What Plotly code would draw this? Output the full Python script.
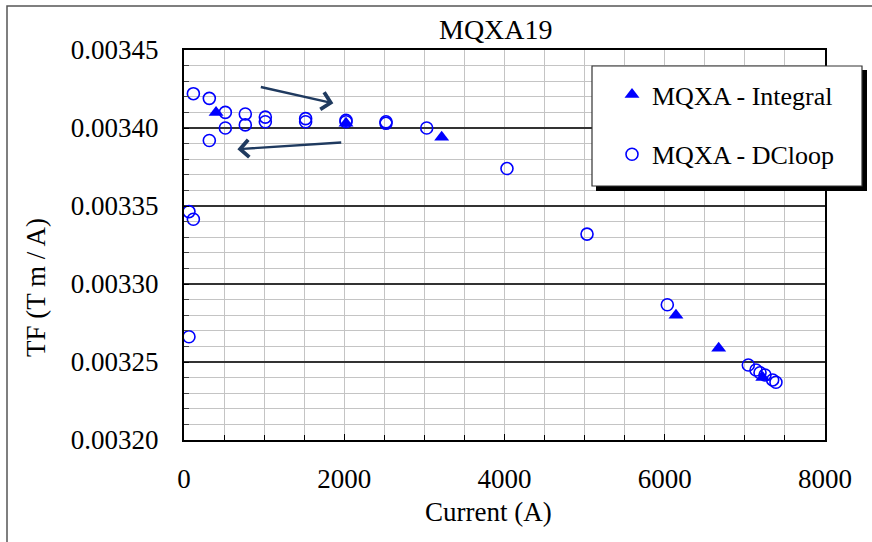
import plotly.graph_objects as go

# ---- data ----
dc_current = [117, 316, 516, 516, 316, 765, 765, 1015, 1015, 1518, 1518, 2022, 2022,
              2521, 2521, 3029, 4031, 5030, 6032, 7043, 7139, 7189, 7251, 7347, 7388,
              62, 117, 62]
dc_tf = [0.003422, 0.003419, 0.003410, 0.003400, 0.003392, 0.003409, 0.003402, 0.003407,
         0.003404, 0.003406, 0.003404, 0.003405, 0.003404, 0.003404, 0.003403, 0.003400,
         0.003374, 0.003332, 0.0032867, 0.0032481, 0.0032449, 0.0032431, 0.0032417,
         0.0032385, 0.003237, 0.0033464, 0.0033415, 0.0032662]

int_current = [400, 2022, 3216, 6140, 6673, 7223]
int_tf = [0.003410, 0.003403, 0.003394, 0.003280, 0.0032588, 0.003240]

# arrows: (tail x, tail y, head x, head y)
arrow_up = [940, 0.0034265, 1864, 0.0034158]
arrow_down = [1981, 0.0033908, 666, 0.0033864]

title_text = "MQXA19"
x_title = "Current (A)"
y_title = "TF (T m / A)"
names = ["MQXA - Integral", "MQXA - DCloop"]

FONT = "Liberation Serif"
BLUE = "#0000FF"

# layout geometry (pixels)
W, H = 872, 542
L, R, T, B = 184, 47, 50, 102
PW, PH = W - L - R, H - T - B


def px(x):
    return (x - L) / PW


def py(y):
    return (H - B - y) / PH


fig = go.Figure()
fig.add_trace(go.Scatter(
    x=int_current, y=int_tf, mode="markers", name=names[0], legendgroup="a",
    marker=dict(symbol="triangle-up", size=13, color=BLUE)))
fig.add_trace(go.Scatter(
    x=dc_current, y=dc_tf, mode="markers", name=names[1], legendgroup="b",
    marker=dict(symbol="circle-open", size=12, color=BLUE, line=dict(width=1.6, color=BLUE))))

shapes = [
    # outer chart border
    dict(type="rect", xref="paper", yref="paper", x0=px(7), x1=px(W + 20),
         y0=py(H + 20), y1=py(6), line=dict(color="#555555", width=1.5),
         fillcolor="rgba(0,0,0,0)", layer="below"),
    # legend shadow
    dict(type="rect", xref="paper", yref="paper", x0=px(596), x1=px(867),
         y0=py(191), y1=py(70), line=dict(width=0), fillcolor="black", layer="above"),
    # legend box
    dict(type="rect", xref="paper", yref="paper", x0=px(592), x1=px(862),
         y0=py(186), y1=py(66), line=dict(color="#333333", width=1.2),
         fillcolor="white", layer="above"),
]

annotations = [
    dict(text=title_text, xref="paper", yref="paper", x=px(496), y=py(30),
         showarrow=False, font=dict(family=FONT, size=28, color="black"),
         xanchor="center", yanchor="middle"),
    dict(text=x_title, xref="paper", yref="paper", x=px(488), y=py(512),
         showarrow=False, font=dict(family=FONT, size=27, color="black"),
         xanchor="center", yanchor="middle"),
    dict(text=y_title, xref="paper", yref="paper", x=px(36), y=py(288),
         showarrow=False, textangle=-90, font=dict(family=FONT, size=27, color="black"),
         xanchor="center", yanchor="middle"),
]
for a in (arrow_up, arrow_down):
    annotations.append(dict(
        x=a[2], y=a[3], ax=a[0], ay=a[1], xref="x", yref="y", axref="x", ayref="y",
        text="", showarrow=True, arrowhead=4, arrowsize=1.4, arrowwidth=2.4,
        arrowcolor="#1F3A5F", standoff=0, startstandoff=0))

fig.update_layout(
    width=W, height=H,
    margin=dict(l=L, r=R, t=T, b=B),
    paper_bgcolor="white", plot_bgcolor="white",
    font=dict(family=FONT, size=27, color="black"),
    showlegend=True,
    legend=dict(x=px(612), y=py(71), xanchor="left", yanchor="top",
                bgcolor="rgba(0,0,0,0)", borderwidth=0,
                font=dict(family=FONT, size=26, color="black"),
                tracegroupgap=23, traceorder="grouped", itemwidth=30),
    shapes=shapes,
    annotations=annotations,
)

fig.update_xaxes(
    range=[0, 8000], dtick=2000, tickformat="d",
    showline=True, linecolor="black", linewidth=2, mirror=True,
    showgrid=True, gridcolor="#c4c4c4", gridwidth=1.3,
    ticks="inside", ticklen=6, tickcolor="black", tickwidth=1.3,
    ticklabelstandoff=14, zeroline=False,
    tickfont=dict(family=FONT, size=27),
    minor=dict(dtick=500, showgrid=True, gridcolor="#c4c4c4", gridwidth=1.3,
               ticks="inside", ticklen=5, tickcolor="black"),
)
fig.update_yaxes(
    range=[0.0032, 0.00345], dtick=0.00005, tickformat=".5f",
    showline=True, linecolor="black", linewidth=2, mirror=True,
    showgrid=True, gridcolor="#333333", gridwidth=1.6,
    ticks="inside", ticklen=5, tickcolor="black", tickwidth=1.3,
    ticklabelstandoff=18, zeroline=False,
    tickfont=dict(family=FONT, size=27),
    minor=dict(dtick=0.00001, showgrid=True, gridcolor="#c4c4c4", gridwidth=1.3,
               ticks="inside", ticklen=5, tickcolor="#444444"),
)

fig.write_html("out.html")
